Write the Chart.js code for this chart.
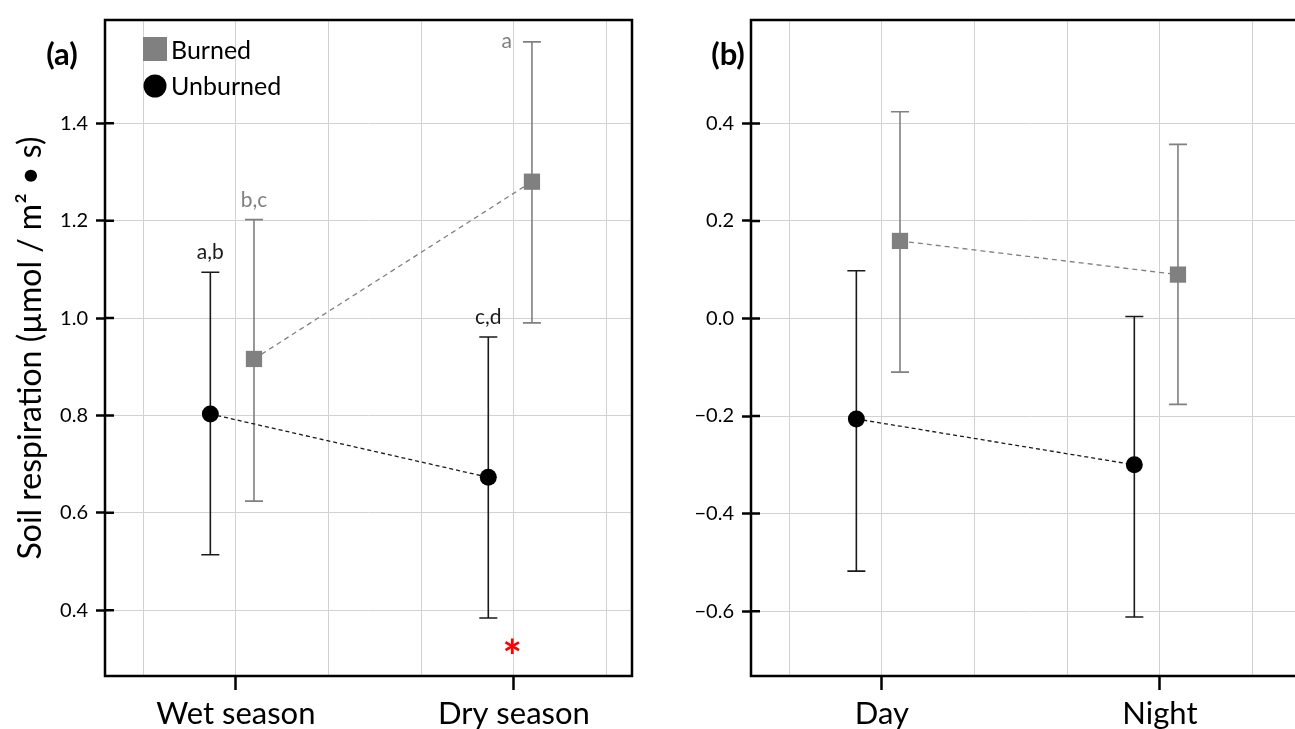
<!DOCTYPE html>
<html>
<head>
<meta charset="utf-8">
<script src="https://cdn.jsdelivr.net/npm/chart.js@4.4.1/dist/chart.umd.min.js"></script>
<style>
html,body{margin:0;padding:0;background:#fff;overflow:hidden;width:1295px;height:729px;}
#chartA{position:absolute;left:0;top:0;}
#chartB{position:absolute;left:645px;top:0;}
</style>
</head>
<body>
<canvas id="chartA" width="650" height="729"></canvas>
<canvas id="chartB" width="700" height="729"></canvas>
<script>
// panel (a) : seasons
const seasons = ["Wet season", "Dry season"];
const burnedSeason = [0.916, 1.280];
const burnedSeasonLow = [0.624, 0.990];
const burnedSeasonHigh = [1.202, 1.567];
const unburnedSeason = [0.803, 0.673];
const unburnedSeasonLow = [0.514, 0.384];
const unburnedSeasonHigh = [1.094, 0.961];
const burnedSeasonLetters = ["b,c", "a"];
const unburnedSeasonLetters = ["a,b", "c,d"];
const seasonStars = ["", "*"];
const seasonTicks = [0.4, 0.6, 0.8, 1.0, 1.2, 1.4];

// panel (b) : day / night
const times = ["Day", "Night"];
const burnedTime = [0.159, 0.090];
const burnedTimeLow = [-0.110, -0.176];
const burnedTimeHigh = [0.424, 0.357];
const unburnedTime = [-0.206, -0.300];
const unburnedTimeLow = [-0.518, -0.612];
const unburnedTimeHigh = [0.098, 0.004];
const timeTicks = [-0.6, -0.4, -0.2, 0.0, 0.2, 0.4];

const gridX = [2/3, 1, 4/3, 5/3, 2, 7/3];

const FONT = "Lato, 'Open Sans', sans-serif";
const GREY = "#808080";
const BLACK = "#1a1a1a";
const BURN_SHIFT = 0.065;
const UNBURN_SHIFT = -0.092;

// error bars, drawn under the markers
const errorBars = {
  id: "errorBars",
  beforeDatasetsDraw(chart) {
    const ctx = chart.ctx;
    const y = chart.scales.y;
    chart.data.datasets.forEach((ds, di) => {
      chart.getDatasetMeta(di).data.forEach((pt, i) => {
        let top = y.getPixelForValue(ds.high[i]);
        let bot = y.getPixelForValue(ds.low[i]);
        ctx.save();
        ctx.strokeStyle = ds.borderColor;
        ctx.lineWidth = 1.6;
        ctx.beginPath();
        ctx.moveTo(pt.x, top); ctx.lineTo(pt.x, bot);
        ctx.moveTo(pt.x - 9, top); ctx.lineTo(pt.x + 9, top);
        ctx.moveTo(pt.x - 9, bot); ctx.lineTo(pt.x + 9, bot);
        ctx.stroke();
        ctx.restore();
      });
    });
  }
};

// frame, panel tag, legend, letters, asterisk
const deco = {
  id: "deco",
  afterDraw(chart, args, opts) {
    const ctx = chart.ctx;
    const a = chart.chartArea;
    const y = chart.scales.y;
    ctx.save();
    ctx.strokeStyle = "#000";
    ctx.lineWidth = 2.5;
    ctx.strokeRect(a.left, a.top, a.right - a.left, a.bottom - a.top);
    // y ticks also reach inside the box
    ctx.beginPath();
    y.ticks.forEach(t => {
      const py = y.getPixelForValue(t.value);
      ctx.moveTo(a.left, py); ctx.lineTo(a.left + 9, py);
    });
    ctx.stroke();

    ctx.fillStyle = "#000";
    ctx.font = "bold 31px " + FONT;
    ctx.textAlign = "center";
    ctx.textBaseline = "middle";
    ctx.fillText(opts.tag, opts.tagX, opts.tagY);

    if (opts.legend) {
      const lx = a.left + 38, ly = a.top + 29;
      const burned = chart.data.datasets[0], unburned = chart.data.datasets[1];
      ctx.fillStyle = GREY;
      ctx.fillRect(lx, ly - 12, 24, 24);
      ctx.fillStyle = "#000";
      ctx.beginPath();
      ctx.arc(lx + 12, ly + 37, 11.5, 0, Math.PI * 2);
      ctx.fill();
      ctx.font = "25px " + FONT;
      ctx.textAlign = "left";
      ctx.fillText(burned.label, lx + 28, ly + 2);
      ctx.fillText(unburned.label, lx + 28, ly + 38);
    }

    // significance letters
    ctx.font = "21px " + FONT;
    ctx.textBaseline = "alphabetic";
    chart.data.datasets.forEach((ds, di) => {
      if (!ds.letters) return;
      chart.getDatasetMeta(di).data.forEach((pt, i) => {
        const top = y.getPixelForValue(ds.high[i]);
        ctx.fillStyle = ds.borderColor;
        if (top - 30 < a.top) {
          ctx.textAlign = "right";
          ctx.fillText(ds.letters[i], pt.x - 20, top + 6);
        } else {
          ctx.textAlign = "center";
          ctx.fillText(ds.letters[i], pt.x, top - 13);
        }
      });
    });

    if (opts.stars) {
      const x = chart.scales.x;
      ctx.fillStyle = "#ff0000";
      ctx.font = "bold 46px " + FONT;
      ctx.textAlign = "center";
      opts.stars.forEach((s, i) => {
        if (s) ctx.fillText(s, x.getPixelForValue(i + 1) - 1.5, a.bottom - 3);
      });
    }
    ctx.restore();
  }
};

function fmt(v) {
  return (v < 0 ? "\u2212" : "") + Math.abs(v).toFixed(1);
}

function makePanel(id, cats, burned, unburned, yTicks, yMin, yMax, xMax, yWidth, rightPad, deOpts, yTitle) {
  new Chart(document.getElementById(id), {
    type: "scatter",
    data: {
      datasets: [
        {
          label: "Burned",
          data: burned.mean.map((v, i) => ({x: i + 1 + BURN_SHIFT, y: v})),
          low: burned.low, high: burned.high, letters: burned.letters,
          showLine: true,
          borderColor: GREY, borderWidth: 1.3, borderDash: [5, 4],
          pointStyle: "rect", pointRadius: 11.5,
          pointBackgroundColor: GREY, pointBorderWidth: 0
        },
        {
          label: "Unburned",
          data: unburned.mean.map((v, i) => ({x: i + 1 + UNBURN_SHIFT, y: v})),
          low: unburned.low, high: unburned.high, letters: unburned.letters,
          showLine: true,
          borderColor: BLACK, borderWidth: 1.3, borderDash: [4, 3],
          pointStyle: "circle", pointRadius: 8.5,
          pointBackgroundColor: "#000", pointBorderWidth: 0
        }
      ]
    },
    options: {
      responsive: false,
      animation: false,
      layout: {padding: {top: 16, right: rightPad, left: 0, bottom: 0}},
      plugins: {legend: {display: false}, tooltip: {enabled: false}, deco: deOpts},
      scales: {
        x: {
          type: "linear",
          min: 0.529, max: xMax,
          afterBuildTicks: s => { s.ticks = gridX.map(v => ({value: v})); },
          afterFit: s => { s.height = 53; },
          border: {display: false},
          grid: {
            color: "#d2d2d2", lineWidth: 1, borderDash: [1, 2],
            tickLength: 14, tickWidth: 2.5,
            tickColor: c => Math.abs(c.tick.value - Math.round(c.tick.value)) < 1e-6 ? "#000" : "rgba(0,0,0,0)"
          },
          ticks: {
            autoSkip: false, maxRotation: 0, padding: 5, color: "#000",
            font: {family: FONT, size: 31},
            callback: v => Math.abs(v - Math.round(v)) < 1e-6 ? cats[Math.round(v) - 1] : ""
          }
        },
        y: {
          min: yMin, max: yMax,
          afterBuildTicks: s => { s.ticks = yTicks.map(v => ({value: v})); },
          afterFit: s => { s.width = yWidth; },
          border: {display: false},
          grid: {
            color: "#d2d2d2", lineWidth: 1, borderDash: [1, 2],
            tickLength: 9, tickWidth: 2.5, tickColor: "#000"
          },
          ticks: {padding: 8, color: "#000", font: {family: FONT, size: 20}, callback: v => fmt(v)},
          title: {
            display: !!yTitle, text: yTitle || "", color: "#000",
            font: {family: FONT, size: 32}, padding: {top: 11, bottom: 0}
          }
        }
      }
    },
    plugins: [errorBars, deco]
  });
}

makePanel("chartA", seasons,
  {mean: burnedSeason, low: burnedSeasonLow, high: burnedSeasonHigh, letters: burnedSeasonLetters},
  {mean: unburnedSeason, low: unburnedSeasonLow, high: unburnedSeasonHigh, letters: unburnedSeasonLetters},
  seasonTicks, 0.265, 1.612, 2.425, 105, 18,
  {tag: "(a)", tagX: 62, tagY: 55, legend: true, stars: seasonStars},
  "Soil respiration (\u00b5mol / m\u00b2 \u2022 s)");

makePanel("chartB", times,
  {mean: burnedTime, low: burnedTimeLow, high: burnedTimeHigh},
  {mean: unburnedTime, low: unburnedTimeLow, high: unburnedTimeHigh},
  timeTicks, -0.733, 0.612, 2.54, 106, 35,
  {tag: "(b)", tagX: 83, tagY: 55, legend: false},
  null);
</script>
</body>
</html>
